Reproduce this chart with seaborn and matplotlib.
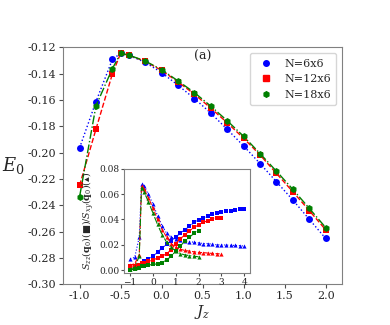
import matplotlib
matplotlib.use("Agg")
import matplotlib.pyplot as plt
from matplotlib.lines import Line2D
import numpy as np
import seaborn as sns

sns.set_style("white")
plt.rcParams['font.family'] = ['DejaVu Serif']
plt.rcParams['mathtext.fontset'] = 'dejavuserif'
plt.rcParams['axes.edgecolor'] = '0.5'

# main panel: ground state energy vs Jz
jz = [-1.0, -0.8, -0.6, -0.5, -0.4, -0.2, 0.0, 0.2, 0.4, 0.6, 0.8, 1.0, 1.2, 1.4, 1.6, 1.8, 2.0]
e0_6x6 = [-0.1963, -0.1611, -0.1291, -0.1245, -0.1260, -0.1313, -0.1391, -0.1487, -0.1588,
          -0.1699, -0.1822, -0.1948, -0.2082, -0.2220, -0.2359, -0.2505, -0.2651]
e0_12x6 = [-0.2248, -0.1820, -0.1401, -0.1245, -0.1258, -0.1306, -0.1374, -0.1462, -0.1555,
           -0.1661, -0.1772, -0.1890, -0.2016, -0.2157, -0.2296, -0.2439, -0.2585]
e0_18x6 = [-0.2334, -0.1643, -0.1361, -0.1245, -0.1258, -0.1303, -0.1369, -0.1454, -0.1543,
           -0.1646, -0.1757, -0.1875, -0.2006, -0.2140, -0.2278, -0.2422, -0.2568]

# inset: structure factors
jz_in = [-1.0, -0.8, -0.6, -0.5, -0.4, -0.2, 0.0, 0.2, 0.4, 0.6, 0.8, 1.0, 1.2, 1.4, 1.6, 1.8,
         2.0, 2.2, 2.4, 2.6, 2.8, 3.0, 3.2, 3.4, 3.6, 3.8, 4.0]
szz_6x6 = [0.001, 0.002, 0.004, 0.006, 0.0074, 0.0087, 0.0108, 0.0142, 0.0174, 0.0205, 0.0232,
           0.0263, 0.029, 0.032, 0.0345, 0.0376, 0.0395, 0.041, 0.043, 0.044, 0.045, 0.0458,
           0.0465, 0.047, 0.0475, 0.048, 0.0484]
sxy_6x6 = [0.009, 0.010, 0.026, 0.068, 0.066, 0.060, 0.052, 0.043, 0.035, 0.029, 0.026, 0.0245,
           0.0235, 0.023, 0.0225, 0.022, 0.0215, 0.021, 0.021, 0.0205, 0.020, 0.020, 0.0198,
           0.0196, 0.0195, 0.0193, 0.019]
szz_12x6 = [0.003, 0.0035, 0.004, 0.0055, 0.006, 0.007, 0.008, 0.0095, 0.011, 0.013, 0.016,
            0.021, 0.0247, 0.028, 0.031, 0.0337, 0.0358, 0.0376, 0.039, 0.0405, 0.041, 0.0415]
sxy_12x6 = [0.004, 0.005, 0.012, 0.066, 0.064, 0.057, 0.049, 0.040, 0.032, 0.026, 0.021, 0.018,
            0.0165, 0.0155, 0.015, 0.0145, 0.014, 0.0138, 0.0135, 0.0132, 0.013, 0.0128]
szz_18x6 = [0.000, 0.001, 0.002, 0.003, 0.0035, 0.004, 0.0045, 0.005, 0.006, 0.008, 0.011,
            0.015, 0.019, 0.023, 0.026, 0.029, 0.031]
sxy_18x6 = [0.001, 0.002, 0.011, 0.065, 0.062, 0.054, 0.045, 0.036, 0.028, 0.022, 0.018, 0.015,
            0.013, 0.012, 0.0115, 0.011, 0.0105]

labels = ["N=6x6", "N=12x6", "N=18x6"]
colors = ["blue", "red", "green"]
styles = [":", "--", "-."]
markers = ["o", "s", "h"]

fig = plt.figure(figsize=(3.9, 3.25), dpi=100)
ax = fig.add_axes([0.162, 0.125, 0.715, 0.729])

for e0, c, ls, m in zip([e0_6x6, e0_12x6, e0_18x6], colors, styles, markers):
    sns.lineplot(x=jz, y=e0, color=c, linestyle=ls, marker=m, markersize=5,
                 markeredgewidth=0, linewidth=1, ax=ax)

ax.set_xlim(-1.2, 2.2)
ax.set_ylim(-0.30, -0.12)
ax.set_xticks([-1.0, -0.5, 0.0, 0.5, 1.0, 1.5, 2.0])
ax.set_yticks(np.arange(-0.30, -0.119, 0.02))
ax.yaxis.set_major_formatter(matplotlib.ticker.FormatStrFormatter('%.2f'))
ax.xaxis.set_major_formatter(matplotlib.ticker.FormatStrFormatter('%.1f'))
ax.tick_params(labelsize=8, length=3, color='0.3', direction='out', pad=2,
               left=True, bottom=True)
ax.set_xlabel("$J_z$", fontsize=11, va='center')
ax.xaxis.set_label_coords(0.5, -0.115)
ax.set_ylabel("$E_0$", fontsize=13, rotation=0, va='center', ha='center')
ax.yaxis.set_label_coords(-0.18, 0.5)
ax.text(0.5, 0.96, "(a)", transform=ax.transAxes, fontsize=9, ha='center', va='center')

handles = [Line2D([], [], color=c, marker=m, linestyle='none', markersize=4)
           for c, m in zip(colors, markers)]
ax.legend(handles, labels, loc='upper right', fontsize=8, frameon=True,
          handletextpad=0.6, borderpad=0.5, labelspacing=0.5)

# inset
axin = fig.add_axes([0.319, 0.159, 0.322, 0.322])
inset_series = [(jz_in, szz_6x6, sxy_6x6), (jz_in[:22], szz_12x6, sxy_12x6),
                (jz_in[:17], szz_18x6, sxy_18x6)]
for (xs, szz, sxy), c, ls in zip(inset_series, colors, styles):
    sns.lineplot(x=xs, y=szz, color=c, linestyle=ls, marker='s', markersize=3,
                 markeredgewidth=0, linewidth=0.8, ax=axin)
    sns.lineplot(x=xs, y=sxy, color=c, linestyle=ls, marker='^', markersize=3,
                 markeredgewidth=0, linewidth=0.8, ax=axin)

axin.set_xlim(-1.25, 4.25)
axin.set_ylim(-0.0025, 0.08)
axin.set_xticks([-1, 0, 1, 2, 3, 4])
axin.set_yticks([0.00, 0.02, 0.04, 0.06, 0.08])
axin.yaxis.set_major_formatter(matplotlib.ticker.FormatStrFormatter('%.2f'))
axin.tick_params(labelsize=6.5, length=2, color='0.3', pad=1.5, left=True, bottom=True)
axin.set_ylabel(r"$S_{zz}(\mathbf{q}_0)(\blacksquare)/S_{xy}(\mathbf{q}_0)(\blacktriangle)$",
                fontsize=6.8, labelpad=2)

fig.savefig("out.png", dpi=100)
